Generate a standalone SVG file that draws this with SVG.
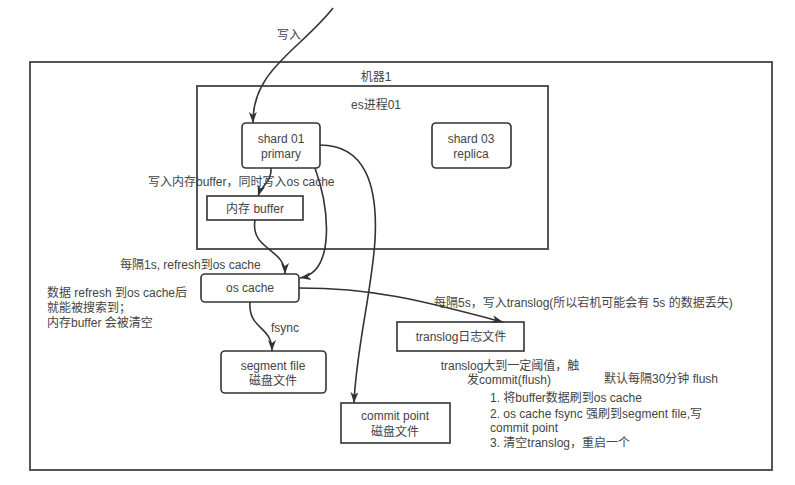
<svg xmlns="http://www.w3.org/2000/svg" width="795" height="485" viewBox="0 0 795 485">
<style>
text{font-family:"Liberation Sans","Noto Sans CJK SC",sans-serif;font-size:12px;fill:#444}
.c{text-anchor:middle}
.box{fill:#fff;stroke:#333;stroke-width:1.6}
.frame{fill:none;stroke:#555;stroke-width:2}
.edge{fill:none;stroke:#333;stroke-width:1.6}
</style>
<defs>
<marker id="arr" markerUnits="userSpaceOnUse" markerWidth="12" markerHeight="9" refX="11" refY="4" orient="auto">
<path d="M0,0 L11,4 L0,8 L3,4 Z" fill="#333"/>
</marker>
</defs>
<rect width="795" height="485" fill="#fff"/>
<g id="machine1">
<rect class="frame" x="30" y="62" width="742" height="408"/>
<text class="c" x="376" y="81">机器1</text>
</g>
<g id="es01">
<rect class="frame" x="197" y="86" width="351" height="163"/>
<text class="c" x="376" y="109">es进程01</text>
</g>
<g id="shard01">
<rect class="box" x="242" y="123" width="78" height="45" rx="4"/>
<text class="c" x="281" y="143">shard 01</text>
<text class="c" x="281" y="158">primary</text>
</g>
<g id="shard03">
<rect class="box" x="432" y="123" width="79" height="45" rx="4"/>
<text class="c" x="471" y="143">shard 03</text>
<text class="c" x="471" y="158">replica</text>
</g>
<g id="membuffer">
<rect class="box" x="207" y="196" width="96" height="24"/>
<text class="c" x="255" y="213">内存 buffer</text>
</g>
<g id="oscache">
<rect class="box" x="201" y="274" width="98" height="28" rx="4"/>
<text class="c" x="250" y="292">os cache</text>
</g>
<g id="segment">
<rect class="box" x="221" y="351" width="105" height="42" rx="4"/>
<text class="c" x="273" y="370">segment file</text>
<text class="c" x="273" y="385">磁盘文件</text>
</g>
<g id="commitpoint">
<rect class="box" x="341" y="403" width="109" height="40"/>
<text class="c" x="395" y="420">commit point</text>
<text class="c" x="395" y="436">磁盘文件</text>
</g>
<g id="translog">
<rect class="box" x="397" y="322" width="127" height="29"/>
<text class="c" x="461" y="341">translog日志文件</text>
</g>
<g id="connectors">
<path class="edge" d="M333,8 C 300,50 252,70 253,123" marker-end="url(#arr)"/>
<path class="edge" d="M271,168 C 272,182 262,184 258,196" marker-end="url(#arr)"/>
<path class="edge" d="M255,220 C 250,250 285,248 285,274" marker-end="url(#arr)"/>
<path class="edge" d="M315,168 C 330,210 335,272 300,278" marker-end="url(#arr)"/>
<path class="edge" d="M320,145 C 365,145 378,185 375,240 C 372,290 356,350 354,403" marker-end="url(#arr)"/>
<path class="edge" d="M250,302 C 248,330 272,325 272,351" marker-end="url(#arr)"/>
<path class="edge" d="M299,288 C 380,288 430,303 503,322" marker-end="url(#arr)"/>
</g>
<g id="labels">
<text x="277" y="39">写入</text>
<text x="148" y="186">写入内存buffer，同时写入os cache</text>
<text x="120" y="269">每隔1s, refresh到os cache</text>
<text x="47" y="297">数据 refresh 到os cache后</text>
<text x="47" y="312">就能被搜索到；</text>
<text x="47" y="327">内存buffer 会被清空</text>
<text x="271" y="332">fsync</text>
<text x="434" y="307">每隔5s，写入translog(所以宕机可能会有 5s 的数据丢失)</text>
<text class="c" x="510" y="370">translog大到一定阈值，触</text>
<text class="c" x="509" y="384">发commit(flush)</text>
<text x="604" y="383">默认每隔30分钟 flush</text>
<text x="490" y="402">1. 将buffer数据刷到os cache</text>
<text x="490" y="418">2. os cache fsync 强刷到segment file,写</text>
<text x="490" y="432">commit point</text>
<text x="490" y="447">3. 清空translog，重启一个</text>
</g>
</svg>
